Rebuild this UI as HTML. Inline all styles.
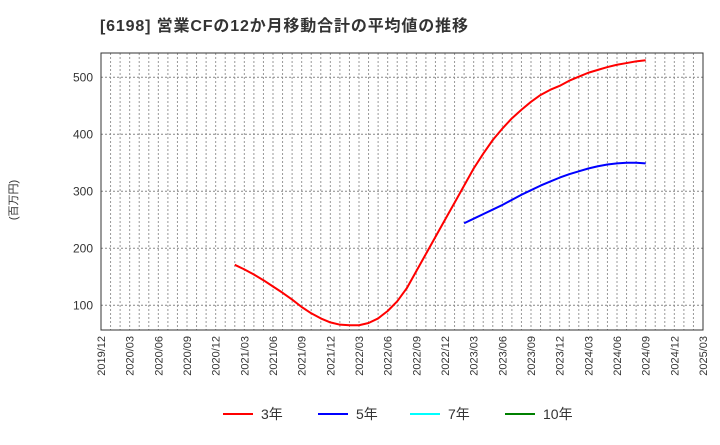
<!DOCTYPE html>
<html><head><meta charset="utf-8"><style>
body{margin:0;background:#fff;font-family:"Liberation Sans","Noto Sans CJK JP",sans-serif}
</style></head><body>
<svg width="720" height="440" xmlns="http://www.w3.org/2000/svg" id="svg" font-family="Liberation Sans, Noto Sans CJK JP, sans-serif">
<text x="100" y="31" font-size="16" font-weight="bold" fill="#333" textLength="368" lengthAdjust="spacing">[6198]  営業CFの12か月移動合計の平均値の推移</text>
<text transform="translate(17,200) rotate(-90)" font-size="11" fill="#333" text-anchor="middle">(百万円)</text>
<g id="grid"></g><g id="series"></g><g id="axes"></g><g id="legend"></g>
</svg>
<script>
const xTickLabels = ["2019/12","2020/03","2020/06","2020/09","2020/12","2021/03","2021/06","2021/09","2021/12","2022/03","2022/06","2022/09","2022/12","2023/03","2023/06","2023/09","2023/12","2024/03","2024/06","2024/09","2024/12","2025/03"];
const yTicks = [100,200,300,400,500];
const s3Start = 14;
const s3 = [171,163,154,144,133,122,110,97,86,77,70,66,65,65,69,77,90,107,130,160,190,220,250,280,310,340,366,390,410,428,443,457,469,478,485,494,501,508,513,518,522,525,528,530];
const s5Start = 38;
const s5 = [244,252,260,268,276,285,294,302,310,317,324,330,335,340,344,347,349,350,350,349];
const seriesNames = ["3年","5年","7年","10年"];
const seriesColors = ["#ff0000","#0000ff","#00ffff","#008000"];

const L=101,R=703,T=53,B=330,NM=63;
const x=i=>L+(R-L)*i/NM;
const y=v=>362.3-v*0.57;
const NS="http://www.w3.org/2000/svg";
function mk(t,a,p){const e=document.createElementNS(NS,t);for(const k in a)e.setAttribute(k,a[k]);p.appendChild(e);return e;}
const grid=document.getElementById('grid'),axes=document.getElementById('axes'),ser=document.getElementById('series'),leg=document.getElementById('legend');
for(let i=1;i<NM;i++){const l=mk('line',{x1:x(i),x2:x(i),y1:T,y2:B,stroke:'#999','stroke-width':1,'stroke-dasharray':'2,2'},grid);

}
yTicks.forEach(v=>{const l=mk('line',{x1:L,x2:R,y1:y(v),y2:y(v),stroke:'#888','stroke-width':1,'stroke-dasharray':'2,2'},grid);


const t=mk('text',{x:L-8,y:y(v)+4,'font-size':12,fill:'#333','text-anchor':'end'},axes);t.textContent=v;

});
const fr=mk('rect',{x:L,y:T,width:R-L,height:B-T,fill:'none',stroke:'#333','stroke-width':1},axes);


xTickLabels.forEach((s,i)=>{const xx=x(i*3);const t=mk('text',{transform:`translate(${xx+4},${B+6}) rotate(-90)`,'font-size':11,fill:'#333','text-anchor':'end'},axes);t.textContent=s;

});
function line(vals,start,color,name){const p=mk('polyline',{points:vals.map((v,i)=>x(start+i)+','+y(v)).join(' '),fill:'none',stroke:color,'stroke-width':2,'stroke-linejoin':'round'},ser);

}
line(s3,s3Start,seriesColors[0],'series-3yr');
line(s5,s5Start,seriesColors[1],'series-5yr');
const lx=[223,318,410,505];
seriesNames.forEach((n,i)=>{const g=mk('g',{},leg);


mk('line',{x1:lx[i],x2:lx[i]+30,y1:414,y2:414,stroke:seriesColors[i],'stroke-width':2},g);
const t=mk('text',{x:lx[i]+38,y:419,'font-size':14,fill:'#333'},g);t.textContent=n;});
</script>
</body></html>
